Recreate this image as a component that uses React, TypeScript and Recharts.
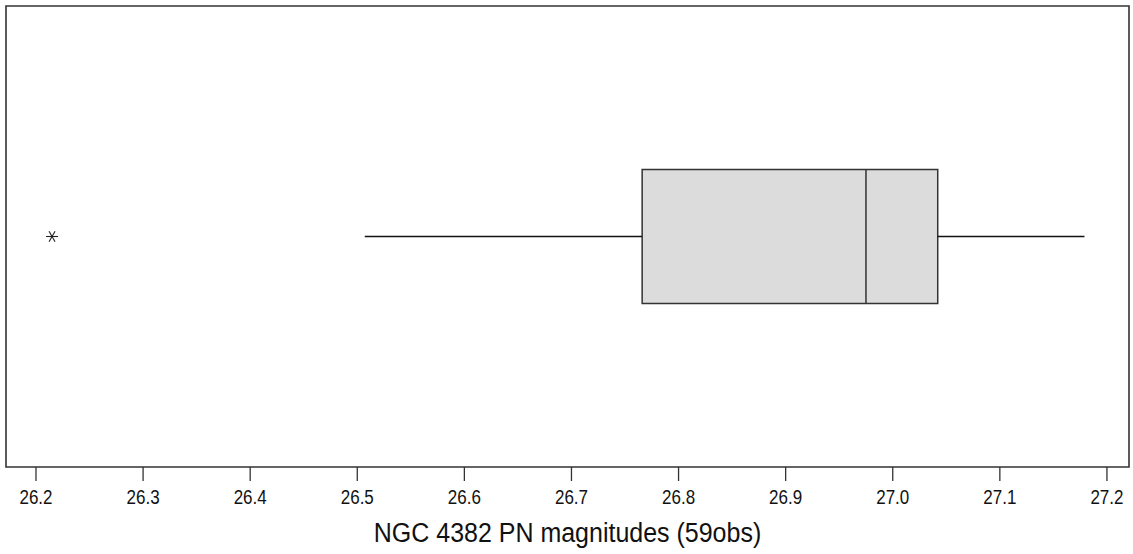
import React from "react";
import {
  ComposedChart,
  XAxis,
  YAxis,
  Scatter,
  ReferenceArea,
  ReferenceLine,
  Label,
} from "recharts";

// five-number summary: lower whisker, Q1, median, Q3, upper whisker
const fiveNumber = [26.507, 26.766, 26.975, 27.042, 27.179];
const outliers = [26.215];
const xTicks = [26.2, 26.3, 26.4, 26.5, 26.6, 26.7, 26.8, 26.9, 27.0, 27.1, 27.2];
const xDomain = [26.172, 27.2206];
const axisTitle = "NGC 4382 PN magnitudes (59obs)";

const BOX_Y = 0.5;
const BOX_HALF = 0.1455;
const INK = "#333";
const FONT = "'Liberation Sans', Arial, sans-serif";

const outlierData = outliers.map((v) => ({ x: v, y: BOX_Y }));

// R-style "*" point: horizontal stroke plus two diagonals
const Asterisk = (props: any) => {
  const { cx, cy } = props;
  const r = 6;
  const dx = r * 0.5;
  const dy = r * 0.866;
  return (
    <g stroke="#222" strokeWidth={1.1}>
      <line x1={cx - r} y1={cy} x2={cx + r} y2={cy} />
      <line x1={cx - dx} y1={cy - dy} x2={cx + dx} y2={cy + dy} />
      <line x1={cx - dx} y1={cy + dy} x2={cx + dx} y2={cy - dy} />
    </g>
  );
};

const Tick = ({ x, y, payload }: any) => (
  <g transform={`translate(${x},${y})`}>
    <text
      textAnchor="middle"
      y={17.2}
      transform="scale(1,1.22)"
      fontFamily={FONT}
      fontSize={17}
      fill="#111"
    >
      {Number(payload.value).toFixed(1)}
    </text>
  </g>
);

const Title = ({ viewBox }: any) => {
  const cx = viewBox.x + viewBox.width / 2;
  const base = viewBox.y + 75;
  return (
    <g transform={`translate(${cx},${base})`}>
      <text
        textAnchor="middle"
        transform="scale(1,1.13)"
        fontFamily={FONT}
        fontSize={25}
        fill="#111"
      >
        {axisTitle}
      </text>
    </g>
  );
};

export default function App() {
  const [lo, q1, med, q3, hi] = fiveNumber;
  return (
    <div style={{ position: "absolute", left: 0, top: 0, background: "#fff" }}>
      <ComposedChart
        width={1133}
        height={554}
        margin={{ top: 6, right: 4, bottom: 0, left: 6 }}
      >
        <XAxis
          type="number"
          dataKey="x"
          domain={xDomain}
          ticks={xTicks}
          allowDataOverflow
          axisLine={false}
          tickSize={14}
          tickMargin={2}
          tickLine={{ stroke: INK, strokeWidth: 1.3 }}
          tick={<Tick />}
          height={87}
          interval={0}
        >
          <Label content={<Title />} />
        </XAxis>
        <YAxis type="number" dataKey="y" domain={[0, 1]} hide />

        {/* plot frame */}
        <ReferenceArea
          x1={xDomain[0]}
          x2={xDomain[1]}
          y1={0}
          y2={1}
          fill="none"
          stroke={INK}
          strokeWidth={1.6}
          ifOverflow="visible"
        />

        {/* whiskers */}
        <ReferenceLine
          segment={[{ x: lo, y: BOX_Y }, { x: q1, y: BOX_Y }]}
          stroke="#111"
          strokeWidth={1.4}
        />
        <ReferenceLine
          segment={[{ x: q3, y: BOX_Y }, { x: hi, y: BOX_Y }]}
          stroke="#111"
          strokeWidth={1.4}
        />

        {/* interquartile box */}
        <ReferenceArea
          x1={q1}
          x2={q3}
          y1={BOX_Y - BOX_HALF}
          y2={BOX_Y + BOX_HALF}
          fill="#dcdcdc"
          fillOpacity={1}
          stroke={INK}
          strokeWidth={1.5}
        />
        <ReferenceLine
          segment={[
            { x: med, y: BOX_Y - BOX_HALF },
            { x: med, y: BOX_Y + BOX_HALF },
          ]}
          stroke={INK}
          strokeWidth={1.5}
        />

        <Scatter
          data={outlierData}
          shape={<Asterisk />}
          isAnimationActive={false}
        />
      </ComposedChart>
    </div>
  );
}
